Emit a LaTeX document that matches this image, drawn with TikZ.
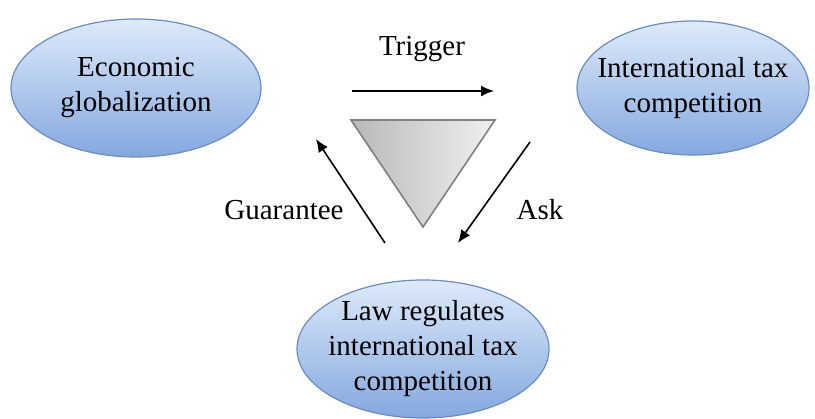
\documentclass[tikz,border=0pt]{standalone}
\usepackage{fontspec}
\setmainfont{Liberation Serif}
\usetikzlibrary{shapes.geometric,arrows.meta}
\definecolor{bubtop}{HTML}{DEEAFA}
\definecolor{bubbot}{HTML}{84A8DF}
\definecolor{bubedge}{HTML}{6A8CC4}
\begin{document}
\begin{tikzpicture}[x=1pt,y=-1pt,font=\fontsize{29}{35}\selectfont,
	bubble/.style={ellipse,draw=bubedge,line width=1.2pt,top color=bubtop,bottom color=bubbot,align=center,inner xsep=-40pt,inner ysep=-25pt}]
		\tikzstyle{arrow}=[draw,-{Latex[length=13pt,width=11pt]},line width=1.6pt]
		\tikzstyle{lbl}=[inner sep=1pt]
		\useasboundingbox (0,0) rectangle (815,419);
		\node[bubble,minimum width=250,minimum height=138] (econ) at (136,88){Economic\\globalization};
		\node[bubble,minimum width=232,minimum height=134] (itc) at (693,88){International tax\\competition};
		\node[bubble,minimum width=252,minimum height=138] (law) at (423,349){Law regulates\\international tax\\competition};
		
		\coordinate (t1) at (351,120);
		\coordinate (t2) at (495,120);
		\coordinate (t3) at (423,227);
		\shade[left color=gray!55,right color=gray!12,draw=gray,line width=1.6pt] (t1) -- (t2) -- (t3) -- cycle;
		
		\coordinate (a1) at (352,91);
		\coordinate (a2) at (494,91);
		\coordinate (b1) at (530,142);
		\coordinate (b2) at (458,243);
		\coordinate (c1) at (385,243);
		\coordinate (c2) at (316,139);
		\path[arrow] (a1) -- (a2);
		\path[arrow] (b1) -- (b2);
		\path[arrow] (c1) -- (c2);
		\node[lbl] (trig) at (422,49){Trigger};
		\node[lbl] (ask) at (540,210){Ask};
		\node[lbl] (guar) at (284,210){Guarantee};
		
		\end{tikzpicture}
\end{document}
